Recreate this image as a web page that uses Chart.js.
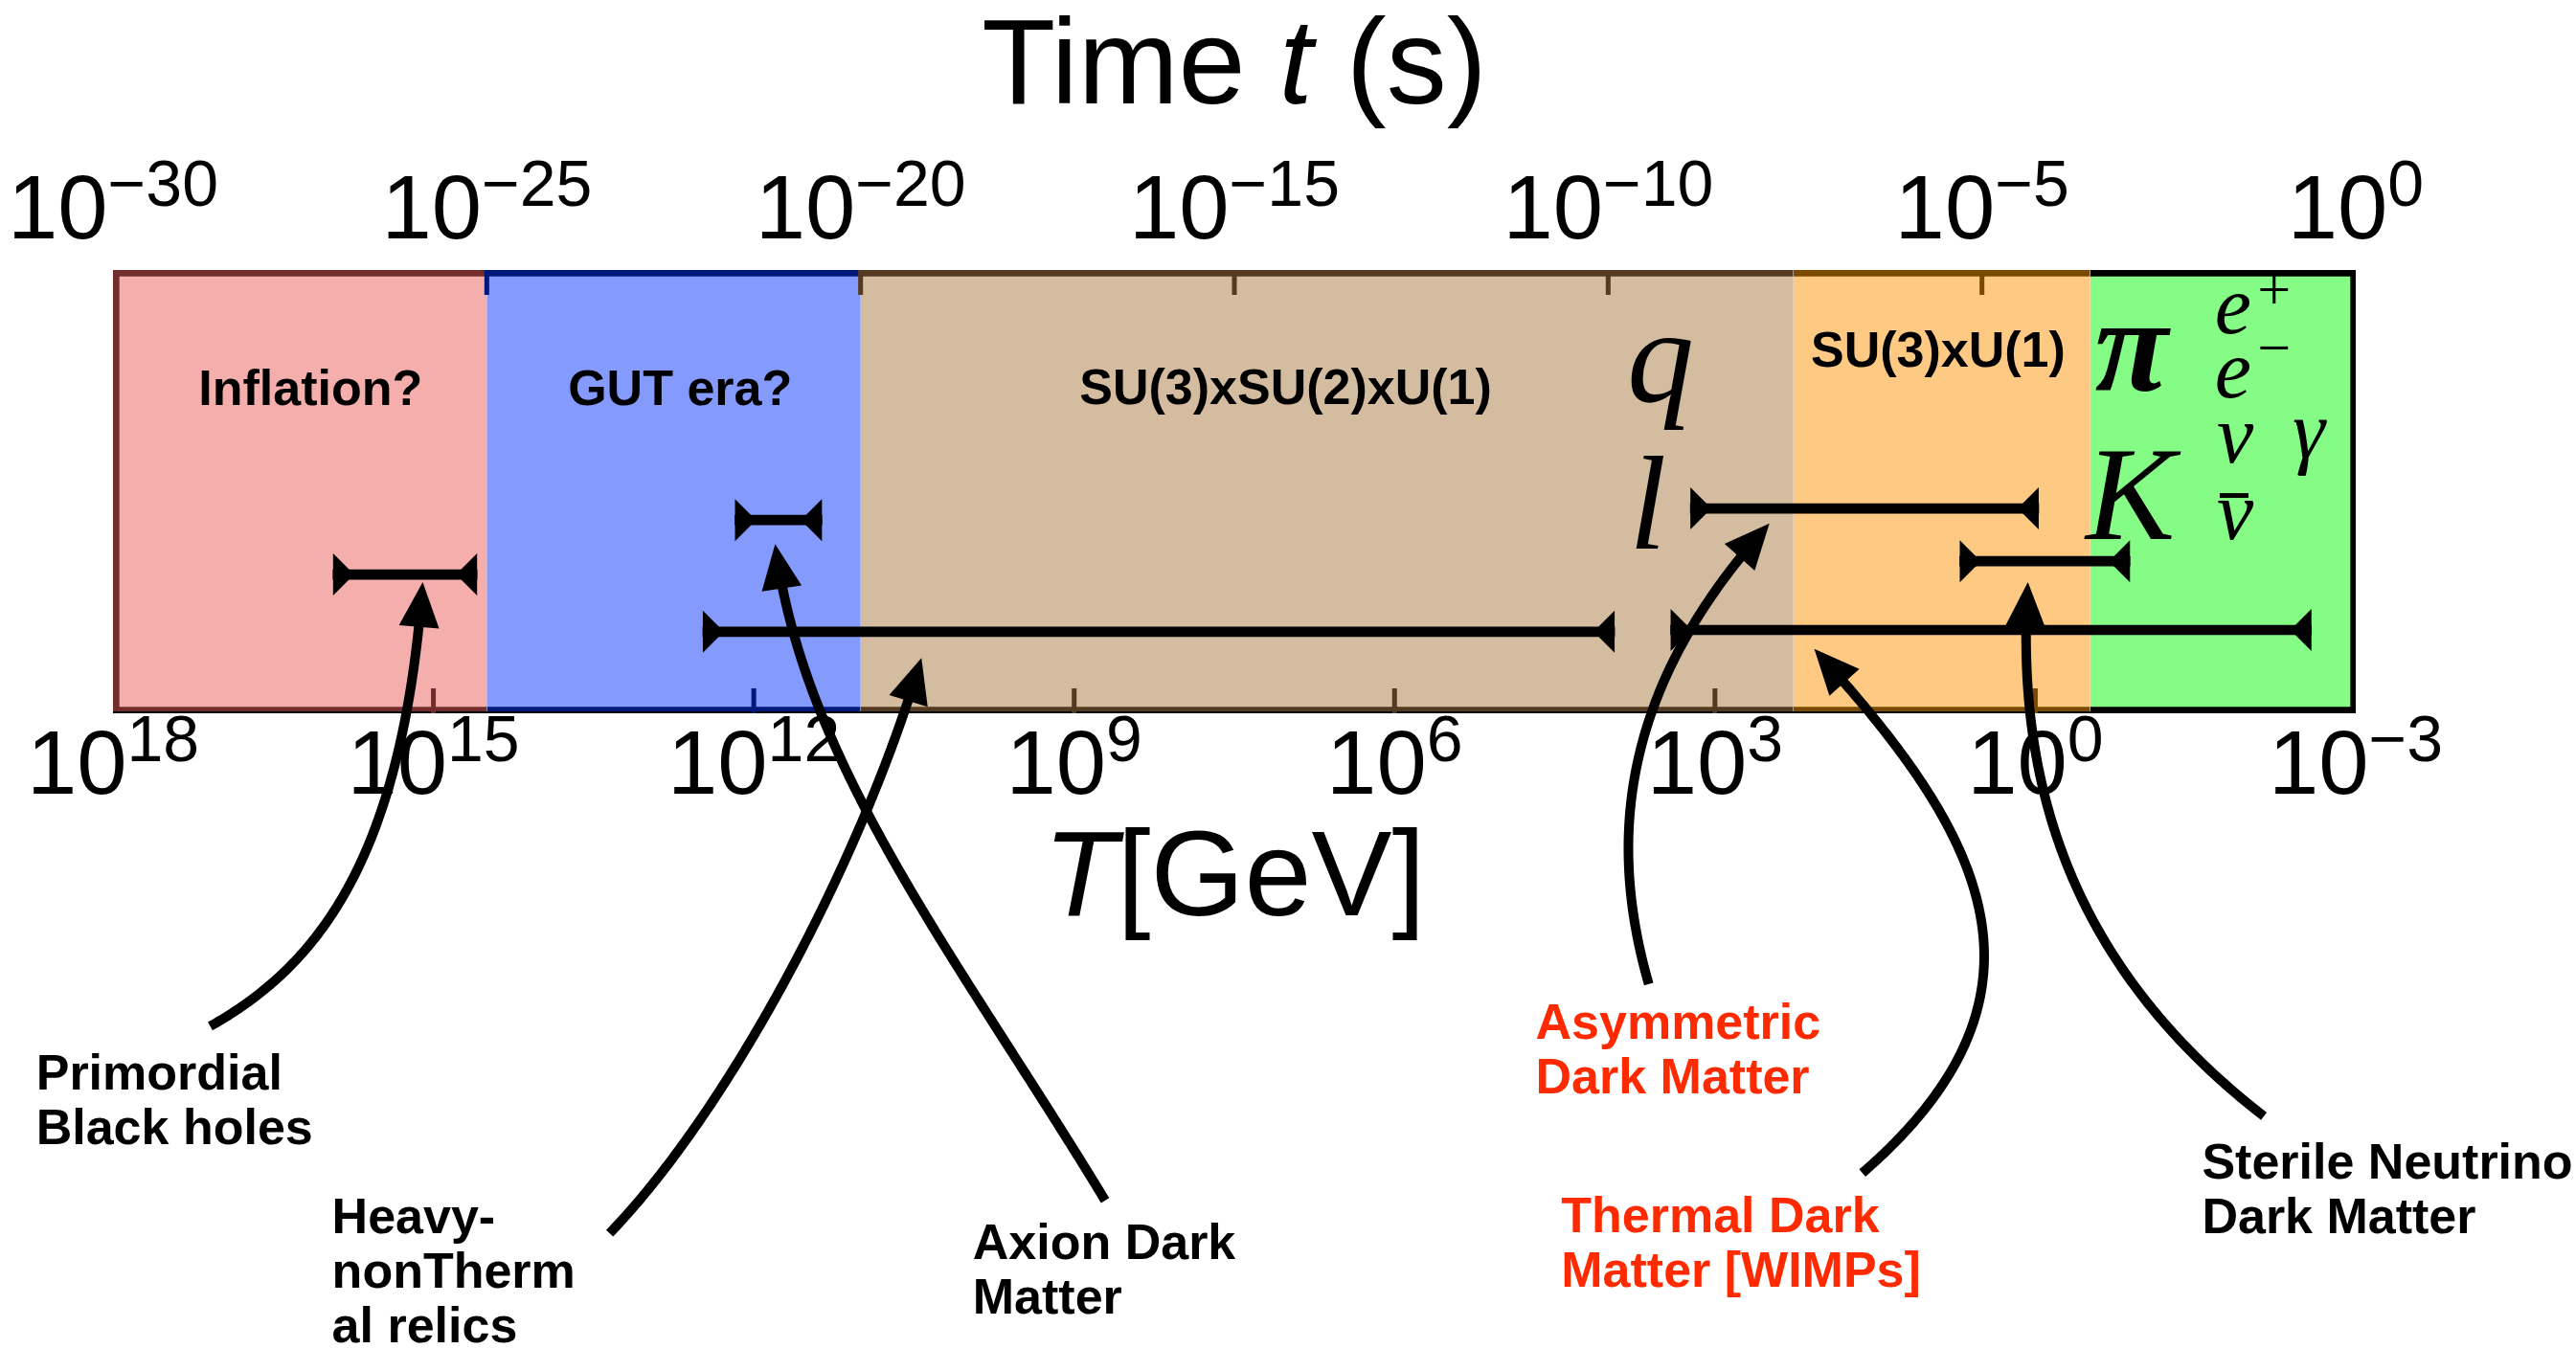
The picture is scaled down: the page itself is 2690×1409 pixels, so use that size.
<!DOCTYPE html>
<html>
<head>
<meta charset="utf-8">
<script src="https://cdn.jsdelivr.net/npm/chart.js@4.4.0/dist/chart.umd.min.js"></script>
<style>
  html, body { margin: 0; padding: 0; background: #fff; }
  #wrap { width: 2690px; height: 1409px; position: relative; }
</style>
</head>
<body>
<div id="wrap"><canvas id="eraChart"></canvas></div>
<script>
// --- Data ---
// Eras of the early universe, along the time axis (s)
const eraNames = ['Inflation?', 'GUT era?', 'SU(3)xSU(2)xU(1)', 'SU(3)xU(1)', 'hadrons + leptons'];
const eraStart = [1e-30, 1e-25, 1e-20, 3.0e-8, 2.8e-4];
const eraEnd   = [1e-25, 1e-20, 3.0e-8, 2.8e-4, 1];

// Production windows of the dark matter candidates, in temperature (GeV)
const candidates = ['Primordial Black holes', 'Axion Dark Matter', 'Heavy-nonThermal relics',
                    'Asymmetric Dark Matter', 'Sterile Neutrino Dark Matter', 'Thermal Dark Matter [WIMPs]'];
const tempHigh = [8.7e15, 1.5e12, 3.0e12, 1.7e3, 5.1, 2.6e3];
const tempLow  = [3.9e14, 2.3e11, 8.7e3, 0.93, 0.13, 2.6e-3];
const rowLevel = [0.687, 0.564, 0.816, 0.538, 0.657, 0.812];

// Tick labels
const timeTicks   = [1e-30, 1e-25, 1e-20, 1e-15, 1e-10, 1e-5, 1];
const timeTickExp = ['\u221230', '\u221225', '\u221220', '\u221215', '\u221210', '\u22125', '0'];
const tempTicks   = [1e18, 1e15, 1e12, 1e9, 1e6, 1e3, 1, 1e-3];
const tempTickExp = ['18', '15', '12', '9', '6', '3', '0', '\u22123'];

// --- Styles ---
const eraFill = ['#f4aeac', '#849afc', '#d4bca0', '#fec982', '#85fc85'];
const eraEdge = ['#722c2c', '#00187a', '#543a20', '#7a4a00', '#000000'];
const RED = '#ff2a00';
const SANS = '"Liberation Sans", Arial, Helvetica, sans-serif';
const SERIF = '"Liberation Serif", "Times New Roman", serif';

// era labels placed in (log10 T, row) units
const eraLabels = [
  { text: 'Inflation?', at: [16.15, 0.305] },
  { text: 'GUT era?', at: [12.69, 0.305] },
  { text: 'SU(3)xSU(2)xU(1)', at: [7.02, 0.302] },
  { text: 'SU(3)xU(1)', at: [0.91, 0.218] }
];

// particle symbols
const symbols = [
  { text: 'q', at: [3.51, 0.296], size: 140, style: 'italic' },
  { text: 'l', at: [3.63, 0.628], size: 140, style: 'italic' },
  { text: '\u03c0', at: [-0.90, 0.272], size: 140, style: 'italic bold' },
  { text: 'K', at: [-0.89, 0.607], size: 140, style: 'italic' },
  { text: 'e', at: [-1.85, 0.143], size: 86, style: 'italic', sup: '+' },
  { text: 'e', at: [-1.85, 0.287], size: 86, style: 'italic', sup: '\u2212' },
  { text: '\u03bd', at: [-1.87, 0.434], size: 86, style: 'italic' },
  { text: '\u03b3', at: [-2.56, 0.423], size: 86, style: 'italic' },
  { text: '\u03bd', at: [-1.87, 0.607], size: 86, style: 'italic', bar: true }
];

// candidate names with their pointer curves (log10 T, row)
const notes = [
  { lines: ['Primordial', 'Black holes'], at: [18.72, 1.849], color: '#000',
    path: [[17.09, 1.706], [16.10, 1.572], [15.29, 1.335], [15.10, 0.704]] },
  { lines: ['Heavy-', 'nonTherm', 'al relics'], at: [15.95, 2.173], color: '#000',
    path: [[13.35, 2.173], [12.24, 1.896], [10.99, 1.335], [10.43, 0.875]] },
  { lines: ['Axion Dark', 'Matter'], at: [9.95, 2.231], color: '#000',
    path: [[8.71, 2.099], [10.09, 1.551], [11.53, 1.119], [11.80, 0.618]] },
  { lines: ['Asymmetric', 'Dark Matter'], at: [4.68, 1.734], color: RED,
    path: [[3.62, 1.611], [4.00, 1.292], [3.90, 0.946], [2.49, 0.572]] },
  { lines: ['Thermal Dark', 'Matter [WIMPs]'], at: [4.44, 2.171], color: RED,
    path: [[1.62, 2.037], [-0.40, 1.616], [0.59, 1.248], [2.07, 0.855]] },
  { lines: ['Sterile Neutrino', 'Dark Matter'], at: [-1.56, 2.050], color: '#000',
    path: [[-2.14, 1.909], [-0.22, 1.551], [0.18, 1.119], [0.07, 0.704]] }
];

// --- Helpers ---
function toPx(chart, p) {
  return [chart.scales.x.getPixelForValue(Math.pow(10, p[0])), chart.scales.yl.getPixelForValue(p[1])];
}

function drawPower(ctx, x, baseline, exp) {
  ctx.font = '94px ' + SANS;
  const w1 = ctx.measureText('10').width;
  ctx.font = '68px ' + SANS;
  const w2 = ctx.measureText(exp).width;
  const left = x - (w1 + w2) / 2;
  ctx.textAlign = 'left';
  ctx.textBaseline = 'alphabetic';
  ctx.font = '94px ' + SANS;
  ctx.fillText('10', left, baseline);
  ctx.font = '68px ' + SANS;
  ctx.fillText(exp, left + w1, baseline - 34);
}

function drawRich(ctx, parts, cx, baseline, size) {
  const fonts = parts.map(p => (p[1] ? 'italic ' : '') + size + 'px ' + SANS);
  const widths = parts.map((p, i) => { ctx.font = fonts[i]; return ctx.measureText(p[0]).width; });
  let x = cx - widths.reduce((a, b) => a + b, 0) / 2;
  ctx.textAlign = 'left';
  ctx.textBaseline = 'alphabetic';
  parts.forEach((p, i) => { ctx.font = fonts[i]; ctx.fillText(p[0], x, baseline); x += widths[i]; });
}

function bezierPoint(p, t) {
  const u = 1 - t;
  return [
    u*u*u*p[0][0] + 3*u*u*t*p[1][0] + 3*u*t*t*p[2][0] + t*t*t*p[3][0],
    u*u*u*p[0][1] + 3*u*u*t*p[1][1] + 3*u*t*t*p[2][1] + t*t*t*p[3][1]
  ];
}

function eraIndex(t) {
  for (let i = eraStart.length - 1; i >= 0; i--) {
    if (t >= eraStart[i] * 0.999) return i;
  }
  return 0;
}

// --- Drawing of frame ticks, labels and pointers ---
const decor = {
  id: 'decor',
  afterDatasetsDraw(chart) {
    const ctx = chart.ctx;
    const area = chart.chartArea;
    const sx = chart.scales.x, st = chart.scales.xt;
    ctx.save();

    // bottom frame line
    ctx.fillStyle = '#000';
    ctx.fillRect(area.left, area.bottom - 2, area.right - area.left, 2);

    // inward tick marks, coloured like the era they sit in
    timeTicks.forEach(v => {
      const px = st.getPixelForValue(v);
      if (px <= area.left + 3 || px >= area.right - 3) return;
      ctx.fillStyle = eraEdge[eraIndex(v)];
      ctx.fillRect(px - 2.5, area.top, 5, 26);
    });
    tempTicks.forEach(v => {
      const px = sx.getPixelForValue(v);
      if (px <= area.left + 3 || px >= area.right - 3) return;
      ctx.fillStyle = eraEdge[eraIndex(st.getValueForPixel(px))];
      ctx.fillRect(px - 2.5, area.bottom - 26, 5, 26);
    });

    // caps of the production windows
    const meta = chart.getDatasetMeta(eraStart.length);
    ctx.fillStyle = '#000';
    meta.data.forEach(bar => {
      const l = Math.min(bar.x, bar.base), r = Math.max(bar.x, bar.base), y = bar.y;
      ctx.beginPath();
      ctx.moveTo(l, y - 22); ctx.lineTo(l + 17, y - 5); ctx.lineTo(l + 17, y + 5); ctx.lineTo(l, y + 22);
      ctx.closePath(); ctx.fill();
      ctx.beginPath();
      ctx.moveTo(r, y - 22); ctx.lineTo(r - 17, y - 5); ctx.lineTo(r - 17, y + 5); ctx.lineTo(r, y + 22);
      ctx.closePath(); ctx.fill();
    });

    // tick labels
    ctx.fillStyle = '#000';
    timeTicks.forEach((v, i) => drawPower(ctx, st.getPixelForValue(v), 249, timeTickExp[i]));
    tempTicks.forEach((v, i) => drawPower(ctx, sx.getPixelForValue(v), 829, tempTickExp[i]));

    // axis titles
    const cx = (area.left + area.right) / 2;
    drawRich(ctx, [['Time ', false], ['t', true], [' (s)', false]], cx, 108, 126);
    drawRich(ctx, [['T', true], ['[GeV]', false]], cx, 956, 126);

    // era labels
    ctx.textAlign = 'center';
    ctx.textBaseline = 'alphabetic';
    ctx.font = 'bold 52px ' + SANS;
    eraLabels.forEach(e => {
      const [x, y] = toPx(chart, e.at);
      ctx.fillText(e.text, x, y);
    });

    // particle symbols
    symbols.forEach(s => {
      const [x, y] = toPx(chart, s.at);
      ctx.font = s.style + ' ' + s.size + 'px ' + SERIF;
      ctx.textAlign = 'center';
      ctx.fillText(s.text, x, y);
      if (s.sup) {
        ctx.font = '62px ' + SERIF;
        ctx.textBaseline = 'middle';
        ctx.fillText(s.sup, x + 43, y - (s.sup === '+' ? 41 : 47));
        ctx.textBaseline = 'alphabetic';
      }
      if (s.bar) ctx.fillRect(x - 16, y - 48, 30, 5);
    });

    // candidate names and curved pointers
    ctx.textAlign = 'left';
    ctx.font = 'bold 52px ' + SANS;
    notes.forEach(n => {
      const [x, y] = toPx(chart, n.at);
      ctx.fillStyle = n.color;
      n.lines.forEach((line, k) => ctx.fillText(line, x, y + k * 57));

      const p = n.path.map(q => toPx(chart, q));
      const tip = p[3];
      const headLen = 47, headHalf = 21;
      const pts = [];
      for (let k = 0; k <= 200; k++) {
        const b = bezierPoint(p, k / 200);
        if (Math.hypot(b[0] - tip[0], b[1] - tip[1]) < headLen - 6) break;
        pts.push(b);
      }
      ctx.strokeStyle = '#000';
      ctx.lineWidth = 10;
      ctx.lineCap = 'butt';
      ctx.lineJoin = 'round';
      ctx.beginPath();
      pts.forEach((b, k) => (k ? ctx.lineTo(b[0], b[1]) : ctx.moveTo(b[0], b[1])));
      ctx.stroke();

      const back = bezierPoint(p, 0.97);
      let dx = tip[0] - back[0], dy = tip[1] - back[1];
      const len = Math.hypot(dx, dy);
      dx /= len; dy /= len;
      const bx = tip[0] - dx * headLen, by = tip[1] - dy * headLen;
      ctx.fillStyle = '#000';
      ctx.beginPath();
      ctx.moveTo(tip[0], tip[1]);
      ctx.lineTo(bx - dy * headHalf, by + dx * headHalf);
      ctx.lineTo(bx + dy * headHalf, by - dx * headHalf);
      ctx.closePath();
      ctx.fill();
    });

    ctx.restore();
  }
};

// --- Datasets ---
const eraDatasets = eraStart.map((s, i) => ({
  label: eraNames[i],
  data: [[s, eraEnd[i]]],
  xAxisID: 'xt',
  yAxisID: 'y',
  backgroundColor: eraFill[i],
  borderColor: eraEdge[i],
  borderWidth: { top: 7, bottom: 7, left: i === 0 ? 7 : 0, right: i === eraStart.length - 1 ? 6 : 0 },
  borderSkipped: false,
  grouped: false,
  categoryPercentage: 1,
  barPercentage: 1,
  order: 2
}));

const windowDataset = {
  label: 'production windows',
  data: candidates.map((c, i) => ({ x: [tempHigh[i], tempLow[i]], y: rowLevel[i] })),
  xAxisID: 'x',
  yAxisID: 'yl',
  backgroundColor: '#000',
  barThickness: 10,
  grouped: false,
  order: 1
};

new Chart(document.getElementById('eraChart'), {
  type: 'bar',
  data: { labels: ['era'], datasets: [...eraDatasets, windowDataset] },
  options: {
    indexAxis: 'y',
    responsive: true,
    maintainAspectRatio: false,
    animation: false,
    events: [],
    layout: { padding: { left: 118, right: 230, top: 282, bottom: 664 } },
    plugins: { legend: { display: false }, tooltip: { enabled: false } },
    scales: {
      x:  { type: 'logarithmic', position: 'bottom', min: 1e-3, max: 1e18, reverse: true, display: false },
      xt: { type: 'logarithmic', position: 'top', min: 1e-30, max: 1, display: false },
      y:  { type: 'category', display: false },
      yl: { type: 'linear', min: 0, max: 1, reverse: true, offset: false, display: false }
    }
  },
  plugins: [decor]
});
</script>
</body>
</html>
